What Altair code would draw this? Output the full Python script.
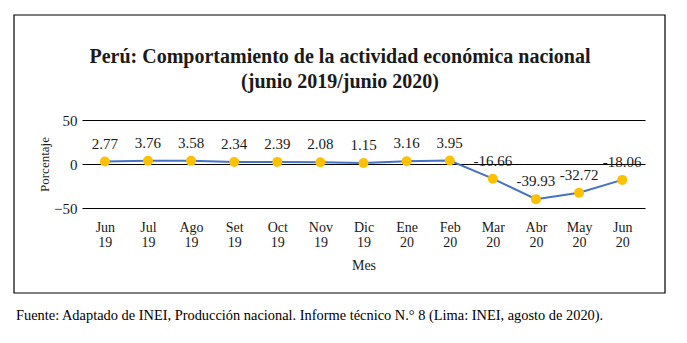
import altair as alt
import pandas as pd

months = ["Jun 19", "Jul 19", "Ago 19", "Set 19", "Oct 19", "Nov 19", "Dic 19",
          "Ene 20", "Feb 20", "Mar 20", "Abr 20", "May 20", "Jun 20"]
values = [2.77, 3.76, 3.58, 2.34, 2.39, 2.08, 1.15, 3.16, 3.95, -16.66, -39.93, -32.72, -18.06]
labels = ["2.77", "3.76", "3.58", "2.34", "2.39", "2.08", "1.15", "3.16", "3.95",
          "-16.66", "-39.93", "-32.72", "-18.06"]
y_ticks = [-50, 0, 50]

title_line1 = "Perú: Comportamiento de la actividad económica nacional"
title_line2 = "(junio 2019/junio 2020)"
source_text = "Fuente: Adaptado de INEI, Producción nacional. Informe técnico N.° 8 (Lima: INEI, agosto de 2020)."

df = pd.DataFrame({"mes": months, "valor": values, "etiqueta": labels})

FONT = "Liberation Serif"
W, H = 563, 88
LEFT, TOP = 82, 120

x_scale = alt.Scale(type="point", padding=0.53)
x_enc = alt.X("mes:N", sort=months, scale=x_scale,
              axis=alt.Axis(title="Mes", domain=False, ticks=False, labelAngle=0,
                            labelExpr="split(datum.label, ' ')", labelPadding=12,
                            labelFontSize=14, labelLineHeight=15, titlePadding=9))
x_plain = alt.X("mes:N", sort=months)
y_enc = alt.Y("valor:Q", scale=alt.Scale(domain=[-50, 50], nice=False),
              axis=alt.Axis(title="Porcentaje", values=y_ticks, domain=False, ticks=False,
                            grid=True, gridColor="#000000", gridOpacity=1, gridWidth=1.2,
                            labelPadding=5, titlePadding=2, titleFontSize=13))

base = alt.Chart(df)
line = base.mark_line(color="#4472C4", strokeWidth=2).encode(x=x_enc, y=y_enc)
pts = base.mark_circle(color="#FFC000", opacity=1, size=100).encode(x=x_plain, y="valor:Q")
txt = base.mark_text(dy=-18, fontSize=15, font=FONT, color="#1a1a1a").encode(
    x=x_plain, y="valor:Q", text="etiqueta:N")

one = alt.Data(values=[{"k": 1}])
frame = alt.Chart(one).mark_rect(
    fillOpacity=0, stroke="#000000", strokeWidth=1.2).encode(
    x=alt.value(14 - LEFT), x2=alt.value(665 - LEFT),
    y=alt.value(15 - TOP), y2=alt.value(293 - TOP))

t1 = alt.Chart(one).mark_text(
    align="center", baseline="alphabetic", fontSize=20, fontWeight="bold", font=FONT,
    color="#1a1a1a", text=title_line1).encode(
    x=alt.value(340 - LEFT), y=alt.value(63 - TOP))
t2 = alt.Chart(one).mark_text(
    align="center", baseline="alphabetic", fontSize=20, fontWeight="bold", font=FONT,
    color="#1a1a1a", text=title_line2).encode(
    x=alt.value(340 - LEFT), y=alt.value(88 - TOP))

source = alt.Chart(one).mark_text(
    align="left", baseline="middle", fontSize=14.4, font=FONT, color="#000000",
    text=source_text).encode(
    x=alt.value(16 - LEFT), y=alt.value(316 - TOP))

chart = alt.layer(line, pts, txt, frame, t1, t2, source).properties(
    width=W, height=H,
    background="white",
    autosize=alt.AutoSizeParams(type="none"),
    padding={"left": LEFT, "top": TOP, "right": 687 - LEFT - W, "bottom": 343 - TOP - H},
).configure_view(stroke=None).configure_axis(
    labelFont=FONT, titleFont=FONT, labelFontSize=15, titleFontSize=14,
    labelColor="#1a1a1a", titleColor="#1a1a1a", titleFontWeight="normal"
)

chart.save("out.html", embed_options={"renderer": "svg", "actions": False})
